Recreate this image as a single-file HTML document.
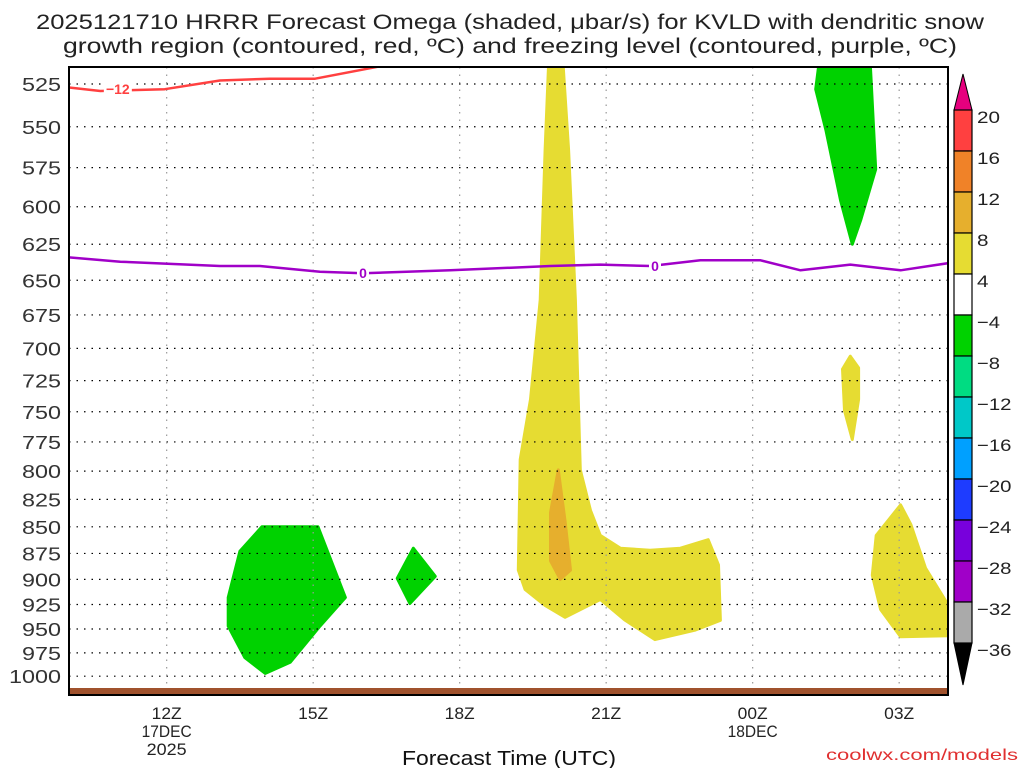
<!DOCTYPE html>
<html><head><meta charset="utf-8"><style>
body{margin:0;background:#fff;}
svg{display:block;font-family:"Liberation Sans",sans-serif;}
</style></head><body>
<svg id="c" width="1024" height="768"></svg>
<script>
const hourTicks=[12,15,18,21,24,27];
const hourLabels=["12Z","15Z","18Z","21Z","00Z","03Z"];
const dateLabels={12:["17DEC","2025"],24:["18DEC"]};
const pTicks=[525,550,575,600,625,650,675,700,725,750,775,800,825,850,875,900,925,950,975,1000];
const cbLevels=[20,16,12,8,4,-4,-8,-12,-16,-20,-24,-28,-32,-36];
const cbColors=["#ff4040","#f08228","#e6af2d","#e6dc32","#ffffff","#00d200","#00dc82","#00c8c8","#00a0ff","#1e3cff","#7800dc","#a000c8","#aaaaaa"];
const greenA={h:[13.95,15.1,15.66,15.14,14.53,14.02,13.6,13.26,13.26,13.5],p:[850,850,918,947,985,997,980,947,918,873]};
const greenB={h:[17.05,17.5,16.98,16.72],p:[870,897,924,899]};
const greenC={h:[25.35,26.41,26.52,26.21,26.04,25.8,25.5,25.29],p:[515,515,576,609,625,596,552,528]};
const yellowA={h:[19.82,19.75,19.65,19.45,19.24,19.2,19.34,19.75,20.16,20.88,21.39,22.0,22.83,23.34,23.3,23.09,22.52,21.9,21.29,20.88,20.68,20.47,20.37,20.23,20.12],
 p:[515,564,664,740,790,891,910,926,938,920,941,961,951,941,886,862,870,872,870,858,835,799,664,564,515]};
const orangeA={h:[20.02,20.16,20.27,20.06,19.86,19.86],p:[799,845,891,900,882,837]};
const yellowB={h:[26.0,26.17,26.17,26.04,25.88,25.84],p:[706,715,740,773,749,716]};
const yellowC={h:[27.03,27.24,27.54,28.01,28.01,27.03,26.62,26.45,26.53],p:[830,848,889,926,957,958,930,896,858]};
const redLine={h:[10,10.64,11.96,13.09,14.11,15.04,16.37],p:[527,529,528,523,522,522,515]};
const purpleLine={h:[10,11.05,13.09,13.91,15.14,16.02,17.81,19.86,20.88,21.91,22.93,24.16,24.98,26.0,27.03,28.01],p:[634,637,640,640,644,645,643,640,639,640,636,636,643,639,643,638]};

const L=69,R=948,T=67,B=695,H0=10,H1=28;
const x=h=>L+(h-H0)*(R-L)/(H1-H0);
const y=p=>84+Math.log(p/525)*919;
const NS="http://www.w3.org/2000/svg";
const svg=document.getElementById('c');
function el(t,a,parent){const e=document.createElementNS(NS,t);for(const k in a)e.setAttribute(k,a[k]);(parent||svg).appendChild(e);return e;}
function txt(s,a){const e=el('text',a);e.textContent=s;return e;}
const pts=o=>o.h.map((h,i)=>x(h).toFixed(1)+','+y(o.p[i]).toFixed(1)).join(' ');

const clip=el('clipPath',{id:'cl'});el('rect',{x:L,y:T,width:R-L,height:B-T},clip);
const g=el('g',{'clip-path':'url(#cl)'});

[[yellowA,'#e6dc32','yellow-region-main'],[orangeA,'#e6af2d','orange-region'],[yellowB,'#e6dc32','yellow-region-small'],[yellowC,'#e6dc32','yellow-region-right'],[greenA,'#00d200','green-region-left'],[greenB,'#00d200','green-region-mid'],[greenC,'#00d200','green-region-top']].forEach(([o,c,n])=>{
 const e=el('polygon',{points:pts(o),fill:c,stroke:c,'stroke-width':3,'stroke-linejoin':'round'},g);
 
 
});
pTicks.forEach(p=>{const e=el('line',{x1:L,x2:R,y1:y(p),y2:y(p),stroke:'#000','stroke-width':1.2,'stroke-dasharray':'1.5,6'},g);
 });
hourTicks.forEach(h=>{const e=el('line',{x1:x(h),x2:x(h),y1:T,y2:B,stroke:'#999','stroke-width':1.2,'stroke-dasharray':'1.5,6'},g);
 });
const gr=el('rect',{x:L,y:688,width:R-L,height:8,fill:'#a0522d'},g);

const rl=el('polyline',{points:pts(redLine),fill:'none',stroke:'#ff4040','stroke-width':2.5,'stroke-linejoin':'round'},g);

const pl=el('polyline',{points:pts(purpleLine),fill:'none',stroke:'#a000c8','stroke-width':2.5,'stroke-linejoin':'round'},g);

[[11.0,528,'−12','#ff4040'],[16.02,645,'0','#a000c8'],[22.0,640,'0','#a000c8']].forEach(([h,p,s,c])=>{
 el('rect',{x:x(h)-(s.length>1?14:6),y:y(p)-7,width:s.length>1?28:12,height:14,fill:'#fff'},g);
 const t=txt(s,{x:x(h),y:y(p)+5,'text-anchor':'middle','font-size':14,'font-weight':'bold',fill:c});
 g.appendChild(t);
});
const fr=el('rect',{x:L,y:T,width:R-L,height:B-T,fill:'none',stroke:'#000','stroke-width':2});

pTicks.forEach(p=>{const s=String(p);const t=txt(s,{x:61,y:y(p)+7,'text-anchor':'end','font-size':18,fill:'#333',textLength:s.length*13,lengthAdjust:'spacingAndGlyphs'});
 });
hourTicks.forEach((h,i)=>{const t=txt(hourLabels[i],{x:x(h),y:719,'text-anchor':'middle','font-size':17,fill:'#222',textLength:30,lengthAdjust:'spacingAndGlyphs'});
 
 (dateLabels[h]||[]).forEach((s,j)=>{const d=txt(s,{x:x(h),y:737+j*18,'text-anchor':'middle','font-size':17,fill:'#222',textLength:s.length*10,lengthAdjust:'spacingAndGlyphs'});
  });
});
const xt=txt('Forecast Time (UTC)',{x:509,y:765,'text-anchor':'middle','font-size':20,fill:'#111',textLength:214,lengthAdjust:'spacingAndGlyphs'});

const cr=txt('coolwx.com/models',{x:1018,y:760,'text-anchor':'end','font-size':16,fill:'#e03030',textLength:192,lengthAdjust:'spacingAndGlyphs'});

['2025121710 HRRR Forecast Omega (shaded, μbar/s) for KVLD with dendritic snow','growth region (contoured, red, ºC) and freezing level (contoured, purple, ºC)'].forEach((s,i)=>{
 const t=txt(s,{x:510,y:29+i*24,'text-anchor':'middle','font-size':21,fill:'#222',textLength:i?894:948,lengthAdjust:'spacingAndGlyphs'});
 });
const CX=954,CW=18,CT=110,CS=41;
const cb=el('g',{});
el('polygon',{points:`${CX},${CT} ${CX+CW},${CT} ${CX+CW/2},${CT-36}`,fill:'#e6007e',stroke:'#000'},cb);
cbColors.forEach((c,i)=>el('rect',{x:CX,y:CT+i*CS,width:CW,height:CS,fill:c,stroke:'#000','stroke-width':1.2},cb));
const cbB=CT+cbColors.length*CS;
el('polygon',{points:`${CX},${cbB} ${CX+CW},${cbB} ${CX+CW/2},${cbB+42}`,fill:'#000',stroke:'#000'},cb);
cbLevels.forEach((v,i)=>{const s=v<0?'−'+(-v):String(v);const t=txt(s,{x:CX+CW+5,y:CT+i*CS+13,'font-size':17,fill:'#222',textLength:s.length*11.5,lengthAdjust:'spacingAndGlyphs'});
 });
</script>
</body></html>
